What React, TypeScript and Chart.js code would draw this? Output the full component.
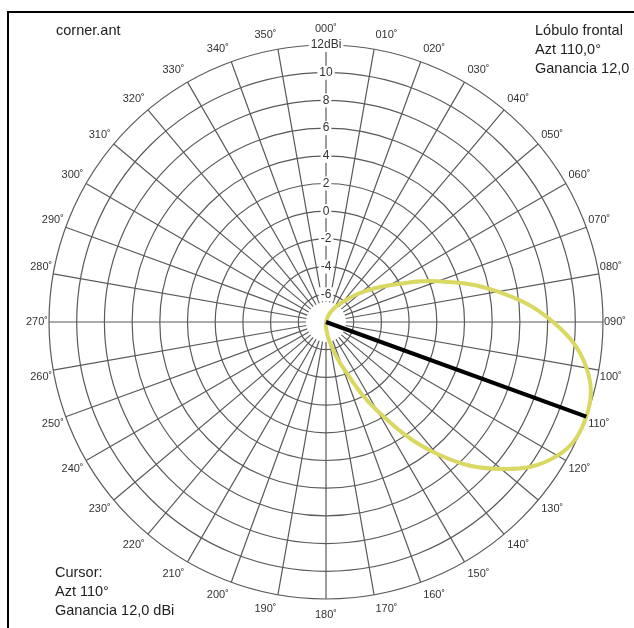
import React, { useEffect, useRef } from 'react';
import { Chart, registerables } from 'chart.js';

Chart.register(...registerables);

// Azimuth categories (degrees, clockwise from north)
const azimuthLabels = [
  '000˚', '010˚', '020˚', '030˚', '040˚', '050˚', '060˚', '070˚', '080˚',
  '090˚', '100˚', '110˚', '120˚', '130˚', '140˚', '150˚', '160˚', '170˚',
  '180˚', '190˚', '200˚', '210˚', '220˚', '230˚', '240˚', '250˚', '260˚',
  '270˚', '280˚', '290˚', '300˚', '310˚', '320˚', '330˚', '340˚', '350˚',
];

// Radiation pattern gain (dBi) read at every azimuth label
const patternGain = [
  -8, -8, -7.5, -6.9, -6.1, -4.7, -2.7, 0.6, 4.6,
  8.4, 11.1, 12.0, 11.3, 8.5, 4.4, -0.6, -4.6, -6.6,
  -7.6, -8, -8, -8, -8, -8, -8, -8, -8,
  -8, -8, -8, -8, -8, -8, -8, -8, -8,
];

// Cursor at azimuth 110°, gain 12.0 dBi
const cursorGain = [
  -8, -8, -8, -8, -8, -8, -8, -8, -8,
  -8, -8, 12.0, -8, -8, -8, -8, -8, -8,
  -8, -8, -8, -8, -8, -8, -8, -8, -8,
  -8, -8, -8, -8, -8, -8, -8, -8, -8,
];

const gainMin = -8;
const gainMax = 12;
const gainStep = 2;

const FONT = "'Liberation Sans', Arial, sans-serif";

export default function App() {
  const canvasRef = useRef<HTMLCanvasElement | null>(null);

  useEffect(() => {
    if (!canvasRef.current) return;
    const chart = new Chart(canvasRef.current, {
      type: 'radar',
      data: {
        labels: azimuthLabels,
        datasets: [
          {
            label: 'Cursor',
            data: cursorGain,
            borderColor: '#000000',
            borderWidth: 4,
            tension: 0,
            pointRadius: 0,
            fill: false,
            order: 0,
          },
          {
            label: 'Diagrama',
            data: patternGain,
            borderColor: '#d9d863',
            borderWidth: 4,
            tension: 0.4,
            pointRadius: 0,
            fill: false,
            order: 1,
          },
        ],
      },
      options: {
        responsive: false,
        animation: false,
        layout: { padding: { left: 17, right: 7, top: 8, bottom: 3 } },
        plugins: { legend: { display: false }, tooltip: { enabled: false } },
        scales: {
          r: {
            min: gainMin,
            max: gainMax,
            ticks: {
              stepSize: gainStep,
              callback: (v: any) => (v === gainMax ? `${v}dBi` : v === gainMin ? '' : `${v}`),
              font: { family: FONT, size: 12 },
              color: '#333333',
              backdropColor: '#ffffff',
              backdropPadding: { x: 2, y: 1 },
              showLabelBackdrop: true,
            },
            grid: { color: '#5a5a5a', lineWidth: 1.2, circular: true },
            angleLines: { color: '#5a5a5a', lineWidth: 1.2, borderDash: [0, 20, 400] },
            pointLabels: {
              font: { family: FONT, size: 11 },
              color: '#333333',
              padding: (ctx: any) => {
                const a = (ctx.index * 10 * Math.PI) / 180;
                return Math.round(2 * Math.abs(Math.cos(a)) - 6 * Math.abs(Math.sin(a)));
              },
            },
          },
        },
      },
    });
    return () => chart.destroy();
  }, []);

  const textStyle: React.CSSProperties = {
    position: 'absolute',
    fontFamily: FONT,
    fontSize: 14.5,
    lineHeight: '19px',
    color: '#222',
    whiteSpace: 'nowrap',
  };

  return (
    <div
      style={{
        position: 'fixed',
        left: 7,
        top: 11,
        width: 627,
        height: 617,
        borderTop: '2px solid #000',
        borderLeft: '2px solid #000',
        boxSizing: 'border-box',
        overflow: 'hidden',
        background: '#fff',
      }}
    >
      <canvas ref={canvasRef} width={625} height={615} style={{ display: 'block' }} />
      <div style={{ ...textStyle, left: 47, top: 8 }}>corner.ant</div>
      <div style={{ ...textStyle, left: 526, top: 8 }}>
        Lóbulo frontal<br />Azt 110,0°<br />Ganancia 12,0 dBi
      </div>
      <div style={{ ...textStyle, left: 46, top: 550 }}>
        Cursor:<br />Azt 110°<br />Ganancia 12,0 dBi
      </div>
    </div>
  );
}
